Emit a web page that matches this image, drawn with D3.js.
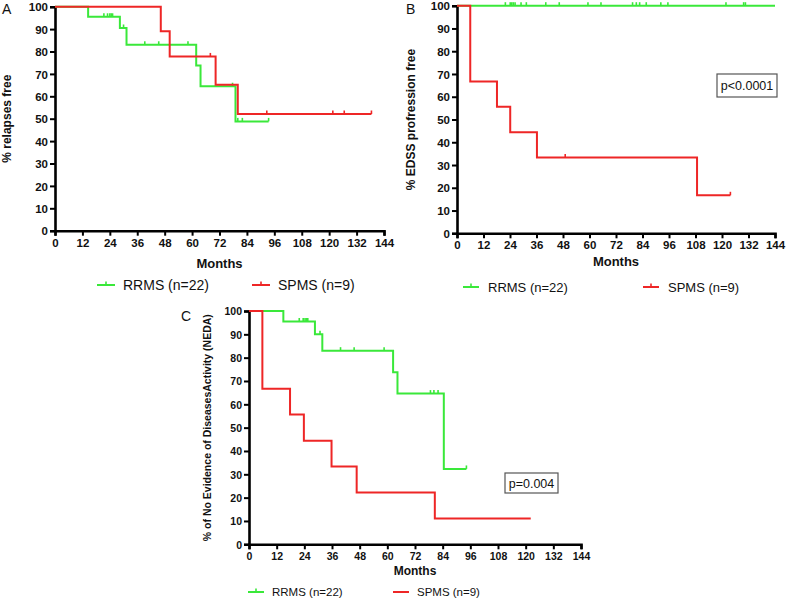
<!DOCTYPE html>
<html><head><meta charset="utf-8">
<script src="https://cdn.jsdelivr.net/npm/d3@7"></script>
<style>body{margin:0;background:#fff}svg{display:block;font-family:"Liberation Sans",Arial,sans-serif}</style>
</head><body><svg id="c" width="787" height="598"></svg>
<script>
const monthTicks = [0,12,24,36,48,60,72,84,96,108,120,132,144];
const pctTicks = [0,10,20,30,40,50,60,70,80,90,100];
const seriesNames = ["RRMS (n=22)", "SPMS (n=9)"];

// Panel A: relapse-free
const aRRMS = [[0,100],[14.5,95.5],[28.4,90.5],[31.3,83],[61.8,73.8],[63.7,64.5],[79,48.8],[93.5,48.8]];
const aRRMSCens = [21.4,23,24,24.6,25.2,30,39.3,45.4,58.2,77.7,80,82,93.5];
const aSPMS = [[0,100],[46.3,89],[50.2,77.8],[70.3,65.2],[80,52.1],[138.5,52.1]];
const aSPMSCens = [68,92.7,121.6,126.6,138.5];

// Panel B: EDSS progression-free
const bRRMS = [[0,100],[144,100]];
const bRRMSCens = [21.9,24.1,24.8,25.5,26.3,29,31.4,40.2,46.3,59.3,65.2,79.5,81.2,82.7,85.7,92.3,95.5,121.8,129.8,130.6];
const bSPMS = [[0,100],[6,66.7],[18.1,55.6],[24.1,44.4],[36.2,33.3],[108.7,16.7],[123.8,16.7]];
const bSPMSCens = [49,123.8];

// Panel C: NEDA
const cRRMS = [[0,100],[14.9,95.5],[28.6,90],[31.8,83],[62.5,73.8],[64.4,64.6],[84.5,32.3],[94.3,32.3]];
const cRRMSCens = [21.8,23.5,24.3,24.9,25.5,30.8,39.7,45.6,58.6,78.7,80.2,82,94.3];
const cSPMS = [[0,100],[5.8,66.7],[17.8,55.6],[23.8,44.4],[35.8,33.3],[46.7,22.2],[80.6,11.1],[122.2,11.1]];
const cSPMSCens = [];

const GREEN = "#3ae83a", RED = "#ee2626";
const svg = d3.select("#c");

function stepVal(steps, t){ let v = steps[0][1]; for (const s of steps) if (s[0] <= t) v = s[1]; return v; }

function panel(o){
  const x = d3.scaleLinear().domain([0,144]).range([o.x0,o.x1]);
  const y = d3.scaleLinear().domain([0,100]).range([o.yb,o.yt]);
  const g = svg.append("g");
  const xa = g.append("g").attr("transform",`translate(0,${o.yb})`)
    .call(d3.axisBottom(x).tickValues(monthTicks).tickSize(5).tickPadding(3).tickFormat(d3.format("d")));
  const ya = g.append("g").attr("transform",`translate(${o.x0},0)`)
    .call(d3.axisLeft(y).tickValues(pctTicks).tickSize(5).tickPadding(2).tickFormat(d3.format("d")));
  [xa,ya].forEach(a=>{
    a.select(".domain").attr("stroke","#000").attr("stroke-width",2.6);
    a.selectAll(".tick line").attr("stroke","#000").attr("stroke-width",2);
    a.selectAll(".tick text").attr("font-size",o.fs).attr("font-weight","bold").attr("fill","#111")
      .attr("font-family","Liberation Sans, Arial, sans-serif");
  });
  ya.selectAll(".tick text").attr("dy","0.36em");
  g.append("text").attr("x",(o.x0+o.x1)/2).attr("y",o.yb+o.mt).attr("text-anchor","middle")
    .attr("font-size",o.fs+1.5).attr("font-weight","bold").attr("fill","#111").text("Months");
  g.append("text").attr("transform",`translate(${o.ylx},${(o.yt+o.yb)/2}) rotate(-90)`)
    .attr("text-anchor","middle").attr("font-size",o.yfs).attr("font-weight","bold").attr("fill","#111")
    .attr("dy","0.35em").text(o.ylab);
  g.append("text").attr("x",o.lx).attr("y",o.ly).attr("font-size",14).attr("fill","#111").text(o.letter);
  const line = d3.line().x(d=>x(d[0])).y(d=>y(d[1])).curve(d3.curveStepAfter);
  o.series.forEach(s=>{
    g.append("path").datum(s.steps).attr("d",line).attr("fill","none").attr("stroke",s.color).attr("stroke-width",2);
    g.selectAll(null).data(s.cens).enter().append("line")
      .attr("x1",d=>x(d)).attr("x2",d=>x(d)).attr("y1",d=>y(stepVal(s.steps,d))-3.5).attr("y2",d=>y(stepVal(s.steps,d)))
      .attr("stroke",s.color).attr("stroke-width",1.6);
  });
  o.series.forEach((s,i)=>{
    const lx = o.leg[i], ly = o.legy;
    g.append("line").attr("x1",lx).attr("x2",lx+o.lw).attr("y1",ly).attr("y2",ly).attr("stroke",s.color).attr("stroke-width",2);
    if (s.legTick) g.append("line").attr("x1",lx+o.lw/2).attr("x2",lx+o.lw/2).attr("y1",ly-3.5).attr("y2",ly).attr("stroke",s.color).attr("stroke-width",1.6);
    g.append("text").attr("x",lx+o.lw+o.lgap).attr("y",ly).attr("dy","0.35em").attr("font-size",o.lfs).attr("fill","#111").text(seriesNames[i]);
  });
  if (o.p){
    g.append("rect").attr("x",o.p.x).attr("y",o.p.y).attr("width",o.p.w).attr("height",o.p.h)
      .attr("fill","#fff").attr("stroke","#555").attr("stroke-width",1.2);
    g.append("text").attr("x",o.p.x+o.p.w/2).attr("y",o.p.y+o.p.h/2).attr("dy","0.36em").attr("text-anchor","middle")
      .attr("font-size",o.p.fs).attr("fill","#111").text(o.p.text);
  }
}

panel({x0:55,x1:384,yt:6.7,yb:230.7,fs:11.5,mt:37,yfs:12,ylx:7,ylab:"% relapses free",letter:"A",lx:2,ly:14,
  series:[{steps:aRRMS,cens:aRRMSCens,color:GREEN,legTick:true},{steps:aSPMS,cens:aSPMSCens,color:RED,legTick:true}],
  leg:[97,252],legy:285,lw:18,lgap:8,lfs:14});
panel({x0:457,x1:775,yt:5.7,yb:233.3,fs:11.5,mt:33,yfs:12,ylx:411,ylab:"% EDSS profression free",letter:"B",lx:406,ly:14,
  series:[{steps:bRRMS,cens:bRRMSCens,color:GREEN,legTick:true},{steps:bSPMS,cens:bSPMSCens,color:RED,legTick:true}],
  leg:[463,643],legy:287,lw:16,lgap:9,lfs:13,
  p:{x:717,y:74,w:60,h:23,text:"p<0.0001",fs:12.5}});
panel({x0:249,x1:581,yt:311,yb:544.3,fs:10.5,mt:31,yfs:10.5,ylx:207,ylab:"% of No Evidence of DiseasesActivity (NEDA)",letter:"C",lx:181,ly:321,
  series:[{steps:cRRMS,cens:cRRMSCens,color:GREEN,legTick:true},{steps:cSPMS,cens:cSPMSCens,color:RED,legTick:false}],
  leg:[248,393],legy:592,lw:16,lgap:8,lfs:11.5,
  p:{x:505,y:473,w:53,h:20,text:"p=0.004",fs:12.5}});
</script></body></html>
